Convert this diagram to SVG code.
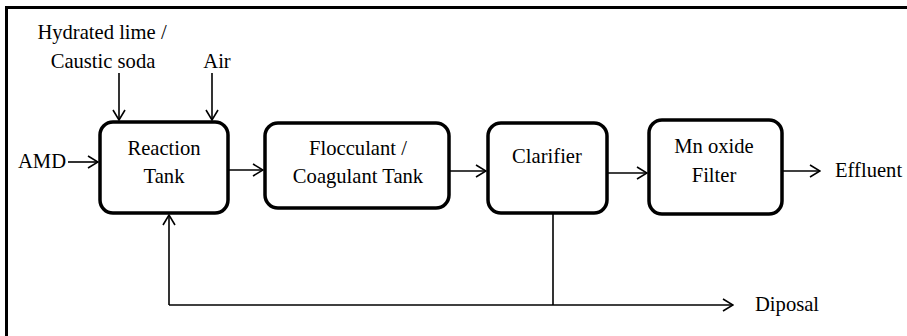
<svg xmlns="http://www.w3.org/2000/svg" width="907" height="336" viewBox="0 0 907 336">
<style>
.box{fill:#fff;stroke:#000;stroke-width:3.5}
.ln{fill:none;stroke:#000;stroke-width:1.6}
.t{font-family:'Liberation Serif','Times New Roman',serif;font-size:20.6px;fill:#000}
.c{text-anchor:middle}
</style>
<defs>
<marker id="arr" viewBox="-11 -7 12 14" refX="0" refY="0" markerWidth="12" markerHeight="14" markerUnits="userSpaceOnUse" orient="auto">
<path d="M-10,-6 L0,0 L-10,6" fill="none" stroke="#000" stroke-width="1.6"/>
</marker>
</defs>
<path d="M6.5,340 L6.5,7.5 L910,7.5" fill="none" stroke="#000" stroke-width="3"/>
<g id="connectors">
<line class="ln" x1="119" y1="73" x2="119" y2="120" marker-end="url(#arr)"/>
<line class="ln" x1="212" y1="73" x2="212" y2="120" marker-end="url(#arr)"/>
<line class="ln" x1="68" y1="162" x2="98" y2="162" marker-end="url(#arr)"/>
<line class="ln" x1="229" y1="170" x2="263" y2="170" marker-end="url(#arr)"/>
<line class="ln" x1="450" y1="171" x2="486" y2="171" marker-end="url(#arr)"/>
<line class="ln" x1="608" y1="173" x2="647" y2="173" marker-end="url(#arr)"/>
<line class="ln" x1="783" y1="171" x2="820" y2="171" marker-end="url(#arr)"/>
<line class="ln" x1="553" y1="214" x2="553" y2="305"/>
<polyline class="ln" points="169,305 733,305" marker-end="url(#arr)"/>
<line class="ln" x1="169" y1="305" x2="169" y2="215" marker-end="url(#arr)"/>
</g>
<g id="label-lime" class="t">
<text class="c" x="102" y="39">Hydrated lime /</text>
<text class="c" x="103" y="68">Caustic soda</text>
</g>
<g id="label-air" class="t"><text class="c" x="217" y="68">Air</text></g>
<g id="label-amd" class="t"><text x="18" y="168">AMD</text></g>
<g id="reaction-tank" class="t">
<rect class="box" x="100" y="122" width="128" height="91" rx="13"/>
<text class="c" x="164" y="155">Reaction</text>
<text class="c" x="164" y="183">Tank</text>
</g>
<g id="flocculant-tank" class="t">
<rect class="box" x="265" y="123" width="184" height="85" rx="13"/>
<text class="c" x="358" y="155">Flocculant /</text>
<text class="c" x="358" y="183">Coagulant Tank</text>
</g>
<g id="clarifier" class="t">
<rect class="box" x="488" y="123" width="119" height="90" rx="13"/>
<text class="c" x="547" y="163">Clarifier</text>
</g>
<g id="mn-filter" class="t">
<rect class="box" x="649" y="120" width="133" height="94" rx="13"/>
<text class="c" x="714" y="153">Mn oxide</text>
<text class="c" x="714" y="182">Filter</text>
</g>
<g id="label-effluent" class="t"><text x="835" y="177">Effluent</text></g>
<g id="label-disposal" class="t"><text x="755" y="311">Diposal</text></g>
</svg>
